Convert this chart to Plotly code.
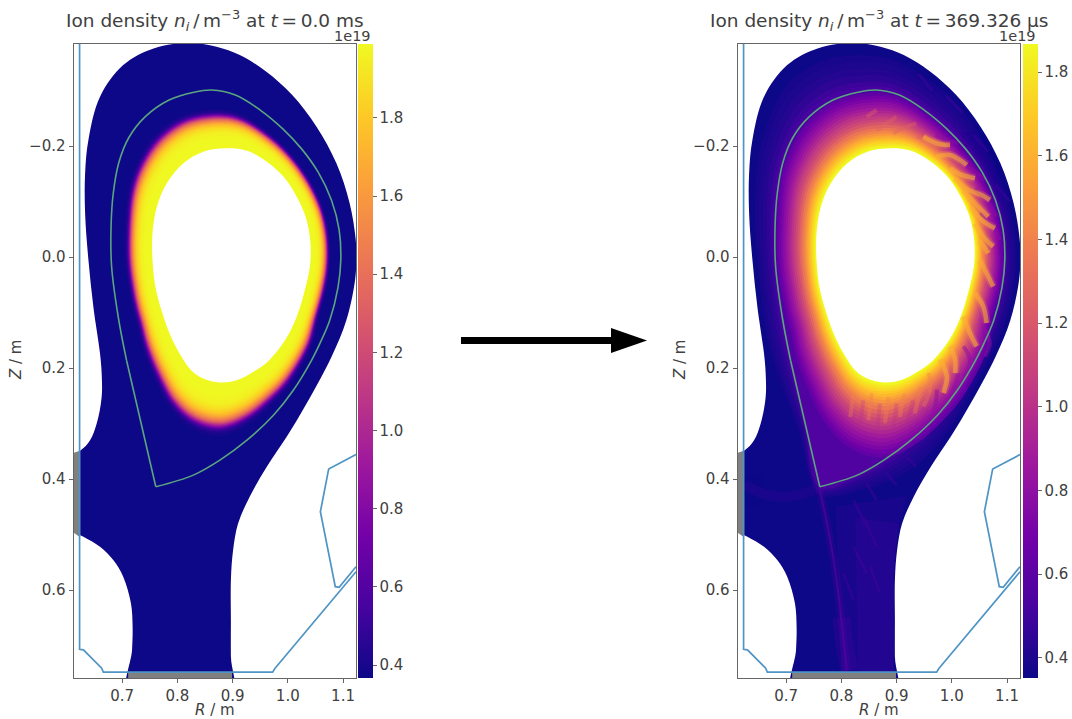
import plotly.graph_objects as go
from plotly.colors import sample_colorscale

W, H = 1072, 719
R_RANGE = [0.612, 1.1235]
Z_RANGE = [0.7586, -0.384]
TICK_R = [0.7, 0.8, 0.9, 1.0, 1.1]
TICK_Z = [-0.2, 0.0, 0.2, 0.4, 0.6]

HOLE_R = [.889,.925,.962,.992,1.016,1.034,1.041,1.040,1.031,1.016,.995,.964,.937,.907,.877,.847,.826,.806,.787,.771,.760,.755,.755,.763,.781,.811,.847]
HOLE_Z = [-.196,-.192,-.172,-.145,-.109,-.067,-.025,.017,.059,.108,.150,.188,.207,.222,.226,.219,.205,.177,.140,.095,.052,.005,-.043,-.091,-.133,-.169,-.190]
CORE_R = [.871,.913,.974,1.016,1.052,1.079,1.093,1.096,1.091,1.076,1.070,1.030,.996,.936,.877,.818,.769,.732,.712,.705,.697,.681,.680,.687,.703,.733,.790]
CORE_Z = [-.301,-.289,-.247,-.205,-.157,-.103,-.049,.005,.054,.114,.162,.244,.289,.343,.369,.354,.307,.234,.177,.137,.108,.017,-.055,-.145,-.195,-.245,-.288]
SEP_R = [.871,.913,.974,1.016,1.052,1.079,1.093,1.096,1.091,1.076,1.058,1.043,1.010,.974,.926,.877,.829,.761,.735,.708,.693,.681,.680,.687,.703,.733,.790]
SEP_Z = [-.301,-.289,-.247,-.205,-.157,-.103,-.049,.005,.054,.114,.156,.186,.240,.285,.330,.366,.393,.414,.300,.186,.108,.017,-.055,-.145,-.195,-.245,-.288]
SOL_R = [.871,.913,.980,1.040,1.085,1.109,1.120,1.121,1.117,1.103,1.082,1.061,1.031,.992,.950,.901,.841,.761,.718,.669,.651,.642,.635,.636,.648,.693,.769]
SOL_Z = [-.376,-.361,-.319,-.253,-.169,-.097,-.031,.011,.059,.114,.168,.210,.264,.330,.378,.408,.426,.432,.312,.186,.108,.017,-.055,-.151,-.223,-.325,-.373]
# separatrix as drawn, from the X-point round the plasma and back
SEPLINE_R = [.708,.693,.681,.680,.684,.694,.712,.742,.785,.830,.862,.905,.950,.990,1.025,1.055,1.079,1.093,1.096,1.091,1.076,1.058,1.043,1.010,.974,.926,.877,.829,.761]
SEPLINE_Z = [.186,.108,.017,-.055,-.115,-.170,-.215,-.253,-.283,-.297,-.301,-.292,-.265,-.232,-.195,-.153,-.103,-.049,.005,.054,.114,.156,.186,.240,.285,.330,.366,.393,.414]
SEPLEG_R = [.761,.735,.708]
SEPLEG_Z = [.414,.300,.186]
DOM_R = [.820,.871,.913,.960,1.008,1.052,1.088,1.112,1.123,1.124,1.121,1.106,1.079,1.034,.998,.962,.931,.910,.901,.897,.897,.897,.899,.711,.718,.719,.716,.702,.684,.660,.630,.612,.580,.580,.624,.642,.654,.663,.663,.660,.648,.639,.633,.633,.639,.660,.702,.757]
DOM_Z = [-.386,-.379,-.364,-.335,-.292,-.235,-.169,-.097,-.031,.011,.047,.114,.180,.264,.324,.378,.432,.480,.528,.582,.654,.720,.800,.800,.708,.666,.624,.576,.546,.522,.504,.495,.470,.370,.349,.330,.300,.252,.210,.174,.090,.005,-.079,-.151,-.211,-.289,-.346,-.376]
WALL_A_R = [.623,.623,.630,.663,.666,.9725,.977,1.1235]
WALL_A_Z = [-.384,.707,.708,.741,.748,.748,.741,.567]
WALL_B_R = [1.1235,1.074,1.059,1.086,1.093,1.1235]
WALL_B_Z = [.356,.382,.459,.594,.595,.558]
GREY_LEFT_R = [.600,.624,.624,.600]
GREY_LEFT_Z = [.357,.349,.505,.488]
GREY_BOT_R = [.711,.899,.899,.711]
GREY_BOT_Z = [.748,.748,.762,.762]

# density (1e19 m^-3) against radial position: 0 = inner hole, 1 = separatrix, 2 = far scrape-off layer
LEFT_RHO = [.68,.66,.64,.62,.605,.59,.58,.57,.56,.55,.54,.53,.52,.51,.50,.49,.48,.465,.45,.435,.42,.40,.38,.355,.33,.30,.27,.22,.18]
LEFT_NI = [.385,.40,.43,.47,.52,.60,.68,.76,.85,.93,1.0,1.09,1.18,1.26,1.33,1.40,1.46,1.53,1.6,1.66,1.72,1.78,1.83,1.87,1.91,1.94,1.96,1.975,1.985]
RIGHT_RHO = [1.8,1.65,1.5,1.35,1.2,1.1,1.0,.95,.9,.85,.8,.75,.7,.65,.6,.55,.5,.45,.4,.35,.3,.26,.22,.185,.15,.115,.08,.05,.03]
RIGHT_NI = [.385,.40,.42,.45,.49,.52,.56,.62,.68,.73,.78,.83,.88,.94,1.0,1.06,1.12,1.19,1.27,1.35,1.42,1.49,1.56,1.62,1.68,1.74,1.79,1.83,1.86]
LEFT_LIMS = [.367, 1.989]
RIGHT_LIMS = [.352, 1.867]
CB_TICKS = [.4,.6,.8,1.0,1.2,1.4,1.6,1.8]

# right-panel structures
LEG_OUTER_R = [.760,.772,.785,.795,.803,.810]
LEG_OUTER_Z = [.415,.470,.540,.610,.680,.745]
LEG_INNER_R = [.760,.725,.690,.655,.625]
LEG_INNER_Z = [.415,.428,.432,.425,.410]
LEG_FOOT_R = [.800,.806,.815]
LEG_FOOT_Z = [.650,.700,.745]
LOWER_WIDE_R = [.790,.920,.905,.898,.895,.895,.800]
LOWER_WIDE_Z = [.450,.430,.480,.530,.580,.750,.750]
LOWER_NARROW_R = [.825,.905,.898,.895,.895,.830]
LOWER_NARROW_Z = [.470,.480,.530,.580,.750,.750]
FINGER_BRIGHT_R = [.9485,.9726,.9968,None,.9726,.9968,1.027,None,.9968,1.018,1.042,None,1.006,1.030,1.054,1.069,None,1.021,1.042,1.066,None,1.036,1.054,1.078,None,1.042,1.057,1.075,None,1.051,1.066,None,1.051,1.063,1.075,None,1.042,1.057,1.063,None,1.021,1.033,1.045,None,.997,1.006,1.006,None,.979,.991,.985]
FINGER_BRIGHT_Z = [-.217,-.205,-.202,None,-.181,-.184,-.166,None,-.160,-.148,-.142,None,-.142,-.121,-.112,-.103,None,-.121,-.097,-.073,None,-.091,-.067,-.052,None,-.061,-.037,-.019,None,-.031,-.007,None,.005,.029,.053,None,.065,.089,.119,None,.107,.137,.161,None,.161,.185,.209,None,.185,.215,.245]
FINGER_LOW_R = [.958,.961,.949,None,.945,.939,.933,None,.915,.910,.906,None,.885,.882,.879,None,.855,.852,.849,None,.822,.819,.816]
FINGER_LOW_Z = [.209,.239,.269,None,.234,.258,.282,None,.246,.267,.288,None,.252,.276,.300,None,.246,.270,.294,None,.246,.267,.288]
FINGER_DARK_R = [.970,.991,1.012,None,1.015,1.042,1.060,None,1.042,1.066,1.081,None,1.051,1.075,1.087,None,1.057,1.069,1.060,None,1.021,1.033,1.024,None,1.012,1.003,.994,None,.973,.970,.961]
FINGER_DARK_Z = [-.220,-.211,-.205,None,-.172,-.154,-.139,None,-.124,-.097,-.073,None,-.079,-.058,-.031,None,.125,.155,.179,None,.161,.185,.215,None,.209,.239,.263,None,.239,.269,.293]
FINGER_DARK_LOW_R = [.960,.951,.942,None,.930,.924,.918,None,.900,.897,.894,None,.870,.867,.864,None,.840,.837,.834]
FINGER_DARK_LOW_Z = [.246,.270,.294,None,.258,.282,.306,None,.264,.288,.312,None,.264,.291,.318,None,.258,.282,.306]
FINGER_TOP_R = [.864,.882,.900,None,.894,.918,.936,None,.936,.966,.991,None,.846,.864]
FINGER_TOP_Z = [-.229,-.241,-.253,None,-.223,-.235,-.241,None,-.217,-.211,-.199,None,-.253,-.265]
SOL_STREAK_R = [.940,.965,None,.990,1.020,None,1.040,1.065,None,1.080,1.105,None,.918,.936,None,.882,.900,None,.846,.864,None,.822,.846,None,.822,.846,None,.840,.864,None,.804,.822,None,.852,.870]
SOL_STREAK_Z = [-.330,-.300,None,-.290,-.260,None,-.220,-.190,None,-.130,-.100,None,.360,.378,None,.390,.411,None,.408,.438,None,.438,.486,None,.522,.570,None,.468,.522,None,.570,.618,None,.558,.606]

GREEN = '#5aa57f'
BLUE = '#4f94c4'
GREY = '#808080'
TXT = '#404040'
SPINE = '#666666'
FS = 15
THIN = '\u2009'

PANELS = [
    dict(left=73.5, cb=358, lims=LEFT_LIMS, rho=LEFT_RHO, ni=LEFT_NI, n='',
         title=f'Ion density <i>n<sub>i</sub></i>{THIN}/{THIN}m<sup>−3</sup> at <i>t</i>{THIN}={THIN}0.0 ms'),
    dict(left=737.5, cb=1023, lims=RIGHT_LIMS, rho=RIGHT_RHO, ni=RIGHT_NI, n='2',
         title=f'Ion density <i>n<sub>i</sub></i>{THIN}/{THIN}m<sup>−3</sup> at <i>t</i>{THIN}={THIN}369.326 µs'),
]
AX_W, TOP, BOT = 282.5, 44, 678

def col(v, lims):
    t = min(1, max(0, (v - lims[0]) / (lims[1] - lims[0])))
    return sample_colorscale('Plasma', [t])[0]

def contour(rho):
    if rho < 1:
        return ([a + (b - a) * rho for a, b in zip(HOLE_R, CORE_R)], [a + (b - a) * rho for a, b in zip(HOLE_Z, CORE_Z)])
    f = rho - 1
    return ([a + (b - a) * f for a, b in zip(SEP_R, SOL_R)], [a + (b - a) * f for a, b in zip(SEP_Z, SOL_Z)])

fig = go.Figure()

def poly(xa, ya, xs, ys, color, spline=True, opacity=1):
    fig.add_trace(go.Scatter(x=xs + xs[:1], y=ys + ys[:1], xaxis=xa, yaxis=ya, mode='lines', fill='toself', opacity=opacity,
                             fillcolor=color, line=dict(width=0, color=color, shape='spline' if spline else 'linear', smoothing=1),
                             hoverinfo='skip', showlegend=False))

def line(xa, ya, xs, ys, color, width, spline=False, opacity=1):
    fig.add_trace(go.Scatter(x=xs, y=ys, xaxis=xa, yaxis=ya, mode='lines', opacity=opacity,
                             line=dict(width=width, color=color, shape='spline' if spline else 'linear', smoothing=1),
                             hoverinfo='skip', showlegend=False))

for p in PANELS:
    xa, ya = 'x' + p['n'], 'y' + p['n']
    lims = p['lims']
    poly(xa, ya, DOM_R, DOM_Z, col(lims[0], lims))
    if p['n']:
        poly(xa, ya, LOWER_WIDE_R, LOWER_WIDE_Z, col(.44, lims), spline=False, opacity=.4)
        poly(xa, ya, LOWER_NARROW_R, LOWER_NARROW_Z, col(.46, lims), spline=False, opacity=.4)
    for r, v in zip(p['rho'], p['ni']):
        xs, ys = contour(r)
        poly(xa, ya, xs, ys, col(v, lims), spline=(r != 1))
    if p['n']:
        line(xa, ya, SOL_STREAK_R, SOL_STREAK_Z, col(.52, lims), 3, False, .4)
        line(xa, ya, LEG_FOOT_R, LEG_FOOT_Z, col(.55, lims), 18, True, .25)
        line(xa, ya, LEG_OUTER_R, LEG_OUTER_Z, col(.62, lims), 8, True, .2)
        line(xa, ya, LEG_OUTER_R, LEG_OUTER_Z, col(.68, lims), 2, True, .45)
        line(xa, ya, LEG_INNER_R, LEG_INNER_Z, col(.52, lims), 10, True, .22)
        line(xa, ya, FINGER_TOP_R, FINGER_TOP_Z, col(1.25, lims), 4, True, .4)
        line(xa, ya, FINGER_DARK_R, FINGER_DARK_Z, col(.8, lims), 4, True, .5)
        line(xa, ya, FINGER_DARK_LOW_R, FINGER_DARK_LOW_Z, col(.95, lims), 4, True, .22)
        line(xa, ya, FINGER_BRIGHT_R, FINGER_BRIGHT_Z, col(1.55, lims), 8, True, .2)
        line(xa, ya, FINGER_BRIGHT_R, FINGER_BRIGHT_Z, col(1.6, lims), 4.5, True, .55)
        line(xa, ya, FINGER_LOW_R, FINGER_LOW_Z, col(1.4, lims), 4, True, .35)
    poly(xa, ya, HOLE_R, HOLE_Z, '#ffffff')
    poly(xa, ya, GREY_LEFT_R, GREY_LEFT_Z, GREY, spline=False)
    poly(xa, ya, GREY_BOT_R, GREY_BOT_Z, GREY, spline=False)
    line(xa, ya, WALL_A_R, WALL_A_Z, BLUE, 1.7)
    line(xa, ya, WALL_B_R, WALL_B_Z, BLUE, 1.7)
    line(xa, ya, SEPLINE_R, SEPLINE_Z, GREEN, 1.6, True)
    line(xa, ya, SEPLEG_R, SEPLEG_Z, GREEN, 1.6)
    # colour scale of the panel (points lie outside the axis range)
    fig.add_trace(go.Scatter(x=[0.0, 0.0], y=[0.0, 0.0], xaxis=xa, yaxis=ya, mode='markers', hoverinfo='skip', showlegend=False,
                             marker=dict(size=1, color=lims, colorscale='Plasma', cmin=lims[0], cmax=lims[1], showscale=True,
                                         colorbar=dict(x=p['cb'] / W, xanchor='left', xpad=0, ypad=0, thickness=15, thicknessmode='pixels',
                                                       y=1 - BOT / H, yanchor='bottom', len=(BOT - TOP), lenmode='pixels',
                                                       tickvals=CB_TICKS, ticktext=['%.1f' % t for t in CB_TICKS], ticks='outside', ticklen=4,
                                                       tickcolor=SPINE, outlinewidth=0, tickfont=dict(size=FS, color=TXT)))))
    ax_common = dict(showline=True, mirror=True, linecolor=SPINE, linewidth=1, ticks='outside', ticklen=4, tickcolor=SPINE,
                     showgrid=False, zeroline=False, tickfont=dict(size=FS, color=TXT))
    fig.update_layout({
        'xaxis' + p['n']: dict(domain=[p['left'] / W, (p['left'] + AX_W) / W], range=R_RANGE, tickvals=TICK_R, ticktext=['%.1f' % t for t in TICK_R], anchor=ya, **ax_common),
        'yaxis' + p['n']: dict(domain=[1 - BOT / H, 1 - TOP / H], range=Z_RANGE, tickvals=TICK_Z, ticktext=['−0.2', '0.0', '0.2', '0.4', '0.6'], anchor=xa, **ax_common),
    })
    cx = (p['left'] + AX_W / 2) / W
    def note(text, x, y, size=FS, xanchor='center', angle=0):
        fig.add_annotation(text=text, xref='paper', yref='paper', x=x, y=1 - y / H, xanchor=xanchor, yanchor='middle',
                           showarrow=False, textangle=angle, font=dict(size=size, color=TXT))
    note(p['title'], cx, 20, size=18.5)
    note('1e19', (p['cb'] + 15) / W, 36, size=14.5, xanchor='right')
    note('<i>R</i> / m', cx, 710)
    note('<i>Z</i> / m', (p['left'] - 57.5) / W, 360, angle=-90)

fig.update_layout(width=W, height=H, margin=dict(l=0, r=0, t=0, b=0), paper_bgcolor='white', plot_bgcolor='white',
                  font=dict(family='DejaVu Sans'), showlegend=False,
                  shapes=[
                      dict(type='rect', xref='paper', yref='paper', x0=461 / W, x1=615 / W, y0=1 - 344 / H, y1=1 - 337 / H, fillcolor='black', line_width=0),
                      dict(type='path', xref='paper', yref='paper', path=f'M {611/W} {1-328/H} L {647/W} {1-340.5/H} L {611/W} {1-353/H} Z', fillcolor='black', line_width=0),
                  ])
fig.write_html('out.html', post_script="document.body.style.margin='0';", config=dict(displayModeBar=False))
